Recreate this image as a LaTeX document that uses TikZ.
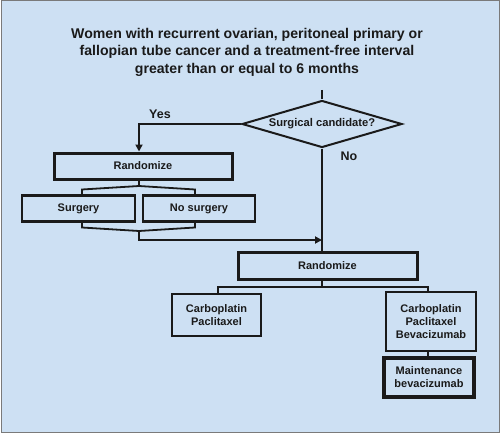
\documentclass[tikz,border=0pt]{standalone}
\usepackage{fontspec}
\setmainfont{Liberation Sans}
\usetikzlibrary{shapes.geometric,arrows.meta}
\definecolor{bg}{HTML}{CDE0F3}
\definecolor{ink}{HTML}{1A1A1A}
\definecolor{frame}{HTML}{7A7A7A}
\begin{document}
\begin{tikzpicture}[x=1pt,y=-1pt,
 box/.style={draw=ink, fill=bg, line width=2.4pt, inner sep=0pt, font=\bfseries\fontsize{11}{13}\selectfont, text=ink, align=center},
 thickbox/.style={box, line width=3pt},
 thinbox/.style={box, line width=2pt},
 conn/.style={draw=ink, line width=1.8pt},
 arr/.style={conn, -{Triangle[length=7pt,width=7pt]}},
 lbl/.style={font=\bfseries\fontsize{12.5}{14}\selectfont, text=ink}]
\useasboundingbox (0,0) rectangle (500,433);
\path[fill=bg, draw=frame, line width=1pt] (1,1) rectangle (499,432);

\node[font=\bfseries\fontsize{14.1}{17.5}\selectfont, text=ink, align=center] (title) at (247,52)
 {Women with recurrent ovarian, peritoneal primary or\\fallopian tube cancer and a treatment-free interval\\greater than or equal to 6 months};

\node[diamond, draw=ink, fill=bg, line width=2pt, minimum width=160pt, minimum height=47pt, inner sep=0pt, aspect=3.4, font=\bfseries\fontsize{11.2}{13}\selectfont, text=ink] (dia) at (322,124) {Surgical candidate?};

\node[thickbox, minimum width=178pt, minimum height=26pt] (rand1) at (143,166) {Randomize};
\node[box, minimum width=113pt, minimum height=26pt] (surg) at (78.5,208.5) {Surgery};
\node[box, minimum width=112pt, minimum height=26pt] (nosurg) at (199,208.5) {No surgery};
\node[thickbox, minimum width=179pt, minimum height=27pt] (rand2) at (327.5,265.5) {Randomize};
\node[thinbox, minimum width=89pt, minimum height=42pt] (cp) at (216.5,315) {Carboplatin\\Paclitaxel};
\node[thinbox, minimum width=90pt, minimum height=59pt] (cpb) at (431,321.5) {Carboplatin\\Paclitaxel\\Bevacizumab};
\node[thickbox, line width=3.5pt, minimum width=90pt, minimum height=39pt] (maint) at (429,377.5) {Maintenance\\bevacizumab};

\node[lbl] (yes) at (160,114) {Yes};
\node[lbl] (no) at (349,156) {No};

\coordinate (stub) at (322,90);
\coordinate (ycorner) at (139,124);
\coordinate (b1) at (139,186);
\coordinate (b1l) at (82,189.5);
\coordinate (b1r) at (195,189.5);
\coordinate (b2l) at (82,227.5);
\coordinate (b2) at (139,231);
\coordinate (b2r) at (195,227.5);
\coordinate (b2d) at (139,240);
\coordinate (r2j) at (322,287);
\coordinate (lc) at (218,287);
\coordinate (rc) at (428,287);

\draw[conn] (stub) -- (dia.north);
\draw[arr] (dia.west) -- (ycorner) -- (ycorner |- rand1.north);
\draw[conn] (ycorner |- rand1.south) -- (b1);
\draw[conn] (b1l |- surg.north) -- (b1l) -- (b1) -- (b1r) -- (b1r |- nosurg.north);
\draw[conn] (b2l |- surg.south) -- (b2l) -- (b2) -- (b2r) -- (b2r |- nosurg.south);
\draw[arr] (b2) -- (b2d) -- (b2d -| dia.south);
\draw[conn] (dia.south) -- (dia.south |- rand2.north);
\draw[conn] (dia.south |- rand2.south) -- (r2j);
\draw[conn] (lc |- cp.north) -- (lc) -- (rc) -- (rc |- cpb.north);
\draw[conn] (rc |- cpb.south) -- (rc |- maint.north);
\end{tikzpicture}
\end{document}
